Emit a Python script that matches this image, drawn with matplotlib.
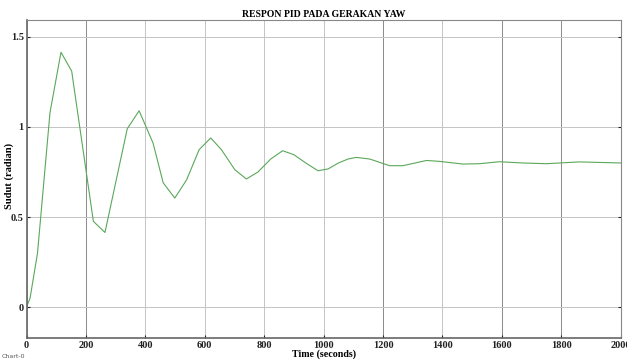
import numpy as np
import matplotlib
matplotlib.use('Agg')
import matplotlib.pyplot as plt
from matplotlib.ticker import FormatStrFormatter

# values
time = [0, 12, 37, 79, 116, 152, 225, 264, 339, 379, 426, 460, 499, 539,
        581, 620, 656, 701, 740, 779, 822, 862, 900, 940, 981, 1015, 1050,
        1082, 1110, 1155, 1222, 1267, 1346, 1390, 1469, 1525, 1592, 1670,
        1749, 1861, 2000]
sudut = [0.0, 0.05, 0.30, 1.08, 1.415, 1.31, 0.476, 0.414, 0.99, 1.09,
         0.91, 0.69, 0.605, 0.707, 0.874, 0.939, 0.874, 0.763, 0.711,
         0.750, 0.822, 0.868, 0.846, 0.800, 0.757, 0.767, 0.800, 0.822,
         0.831, 0.822, 0.785, 0.785, 0.814, 0.809, 0.794, 0.796, 0.807,
         0.800, 0.796, 0.806, 0.800]
xticks = list(range(0, 2001, 200))
yticks = [0, 0.5, 1, 1.5]

plt.rcParams['font.family'] = ['Liberation Serif', 'DejaVu Serif']

fig = plt.figure(figsize=(6.27, 3.6), dpi=100)
ax = fig.add_axes([0.0423, 0.0611, 0.9477, 0.8833])

ax.plot(time, sudut, color='#5aa85a', lw=0.8)

ax.set_xlim(0, 2000)
ax.set_ylim(-0.172, 1.594)
ax.set_xticks(xticks)
ax.set_yticks(yticks)
ax.yaxis.set_major_formatter(FormatStrFormatter('%g'))
ax.grid(True, color='#c4c4c4', lw=0.7)
for i, gl in enumerate(ax.get_xgridlines()):
    if xticks[i] in (200, 1200, 1600, 1800):
        gl.set_color('#8a8a8a')

ax.tick_params(axis='both', labelsize=7.5, length=2, pad=2, direction='in',
               colors='#222222')
ax.tick_params(axis='y', right=True)
for lab in ax.get_xticklabels() + ax.get_yticklabels():
    lab.set_fontweight('bold')

for side in ['left', 'bottom']:
    ax.spines[side].set_color('#666666')
    ax.spines[side].set_linewidth(1.2)
for side in ['top', 'right']:
    ax.spines[side].set_color('#888888')
    ax.spines[side].set_linewidth(0.8)

ax.set_title('RESPON PID PADA GERAKAN YAW', fontsize=7, fontweight='bold', pad=2)
ax.set_xlabel('Time (seconds)', fontsize=7.2, fontweight='bold', labelpad=0)
ax.set_ylabel('Sudut (radian)', fontsize=7.6, fontweight='bold')
ax.yaxis.set_label_coords(-0.021, 0.51)

fig.text(0.003, 0.006, 'Chart-0', fontsize=4.5, color='#555555', family='DejaVu Sans')

fig.savefig('out.png', dpi=100)
